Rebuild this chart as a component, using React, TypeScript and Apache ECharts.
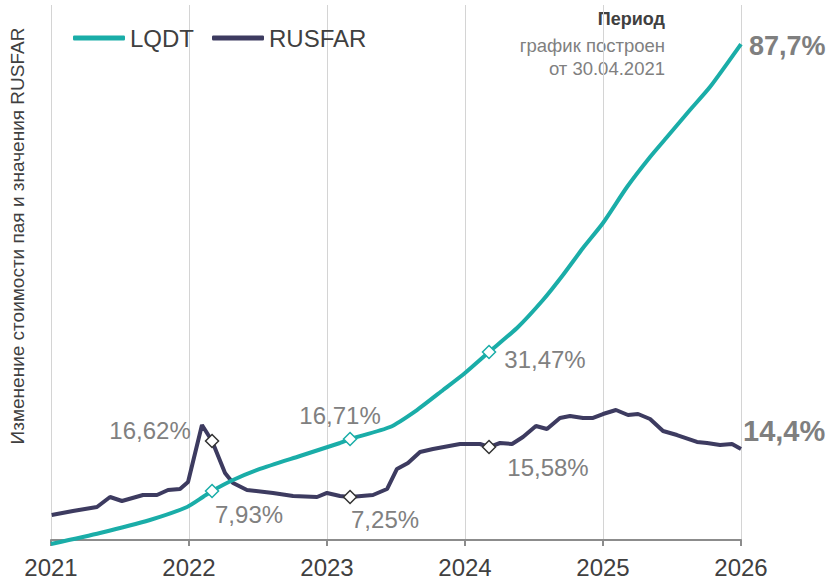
import React, { useEffect, useRef } from "react";
import * as echarts from "echarts";

// Years (decimal) and cumulative change of LQDT, %
const lqdtDates = [2021.0, 2021.355, 2021.717, 2021.986, 2022.101, 2022.167, 2022.319, 2022.514, 2022.804, 2023.094, 2023.167, 2023.457, 2023.652, 2023.841, 2024.0, 2024.174, 2024.377, 2024.565, 2024.71, 2024.855, 2025.0, 2025.174, 2025.341, 2025.464, 2025.63, 2025.775, 2026.0];
const lqdtValues = [0, 1.93, 4.21, 6.49, 8.24, 9.3, 11.23, 13.16, 15.44, 17.72, 18.42, 20.52, 23.5, 27.01, 30.0, 33.68, 37.89, 42.8, 47.19, 51.92, 56.31, 62.62, 67.88, 71.39, 76.13, 80.16, 87.7];

// RUSFAR rate, %
const rusfarDates = [2021.005, 2021.159, 2021.333, 2021.428, 2021.514, 2021.667, 2021.768, 2021.848, 2021.935, 2021.993, 2022.094, 2022.167, 2022.261, 2022.319, 2022.42, 2022.609, 2022.754, 2022.928, 2023.0, 2023.094, 2023.167, 2023.333, 2023.435, 2023.507, 2023.587, 2023.674, 2023.768, 2023.964, 2024.109, 2024.174, 2024.254, 2024.341, 2024.42, 2024.514, 2024.594, 2024.688, 2024.761, 2024.855, 2024.928, 2025.0, 2025.094, 2025.181, 2025.254, 2025.341, 2025.435, 2025.536, 2025.681, 2025.754, 2025.848, 2025.935, 2026.0];
const rusfarValues = [4.0, 4.67, 5.33, 7.0, 6.33, 7.33, 7.33, 8.17, 8.33, 9.5, 19.0, 16.33, 11.0, 9.33, 8.17, 7.67, 7.17, 7.0, 7.67, 7.17, 7.0, 7.33, 8.33, 11.67, 12.67, 14.5, 15.0, 15.83, 15.83, 15.33, 16.0, 15.83, 17.0, 18.83, 18.33, 20.17, 20.5, 20.17, 20.17, 20.83, 21.5, 20.67, 20.83, 20.0, 18.0, 17.33, 16.17, 16.0, 15.67, 15.83, 15.0];

// Annotated points
const lqdtMarkDates = [2022.167, 2023.167, 2024.174];
const lqdtMarkLabels = ["7,93%", "16,71%", "31,47%"];
const rusfarMarkDates = [2022.167, 2023.167, 2024.174];
const rusfarMarkLabels = ["16,62%", "7,25%", "15,58%"];
const lqdtEndLabel = "87,7%";
const rusfarEndLabel = "14,4%";

const tickYears = [2021, 2022, 2023, 2024, 2025, 2026];
const tickLabels = ["2021", "2022", "2023", "2024", "2025", "2026"];

const TEAL = "#1aada8";
const DARK = "#3d3b60";
const FONT = "'Liberation Sans', Arial, sans-serif";

export default function App() {
  const ref = useRef<HTMLDivElement>(null);

  useEffect(() => {
    if (!ref.current) return;
    const chart = echarts.init(ref.current, null, { renderer: "svg" });

    const lqdtMarkOffsets = [[37, 24], [-10, -23], [56, 8]];
    const rusfarMarkOffsets = [[-62, -11], [35, 23], [59, 20]];

    const lqdtMarks = lqdtMarkDates.map((d, i) => {
      const idx = lqdtDates.indexOf(d);
      return {
        coord: [d, lqdtValues[idx]],
        label: { offset: lqdtMarkOffsets[i], formatter: lqdtMarkLabels[i] },
      };
    });
    const rusfarMarks = rusfarMarkDates.map((d, i) => {
      const idx = rusfarDates.indexOf(d);
      return {
        coord: [d, rusfarValues[idx]],
        label: { offset: rusfarMarkOffsets[i], formatter: rusfarMarkLabels[i] },
      };
    });

    const markLabel = {
      show: true,
      position: "inside",
      fontSize: 24,
      color: "#808080",
      fontFamily: FONT,
    };

    chart.setOption({
      animation: false,
      textStyle: { fontFamily: FONT },
      grid: { left: 51, right: 85, top: 5, bottom: 43, containLabel: false },
      legend: {
        data: ["LQDT", "RUSFAR"],
        left: 68,
        top: 21,
        icon: "roundRect",
        itemWidth: 52,
        itemHeight: 5,
        itemGap: 18,
        textStyle: { fontSize: 24, color: "#404040", fontFamily: FONT },
      },
      xAxis: {
        type: "value",
        min: 2021,
        max: 2026,
        interval: 1,
        axisLine: { onZero: false, lineStyle: { color: "#8c8c8c", width: 2 } },
        axisTick: { show: true, length: 6, lineStyle: { color: "#8c8c8c", width: 2 } },
        splitLine: { show: true, lineStyle: { color: "#d4d4d4", width: 1 } },
        axisLabel: {
          fontSize: 24,
          color: "#404040",
          margin: 15,
          fontFamily: FONT,
          formatter: (v: number) => tickLabels[tickYears.indexOf(Math.round(v))] ?? "",
        },
      },
      yAxis: [
        { type: "value", min: 0.7, max: 94.55, show: false },
        { type: "value", min: -0.167, max: 89.0, show: false },
      ],
      graphic: [
        {
          type: "text",
          x: 665,
          y: 19,
          style: { text: "Период", fontSize: 18, fontWeight: "bold", fill: "#404040", textAlign: "right", textVerticalAlign: "middle", fontFamily: FONT },
        },
        {
          type: "text",
          x: 665,
          y: 45,
          style: { text: "график построен", fontSize: 18.5, fill: "#808080", textAlign: "right", textVerticalAlign: "middle", fontFamily: FONT },
        },
        {
          type: "text",
          x: 665,
          y: 68,
          style: { text: "от 30.04.2021", fontSize: 18.5, fill: "#808080", textAlign: "right", textVerticalAlign: "middle", fontFamily: FONT },
        },
        {
          type: "text",
          x: 17,
          y: 236,
          rotation: Math.PI / 2,
          style: { text: "Изменение стоимости пая и значения RUSFAR", fontSize: 19, fill: "#404040", textAlign: "center", textVerticalAlign: "middle", fontFamily: FONT },
        },
      ],
      series: [
        {
          name: "LQDT",
          type: "line",
          yAxisIndex: 0,
          clip: false,
          showSymbol: false,
          smooth: 0.2,
          color: TEAL,
          lineStyle: { color: TEAL, width: 4 },
          data: lqdtDates.map((d, i) => [d, lqdtValues[i]]),
          endLabel: {
            show: true,
            formatter: lqdtEndLabel,
            fontSize: 27,
            fontWeight: "bold",
            color: "#7f7f7f",
            distance: 8,
            offset: [0, 2],
            fontFamily: FONT,
          },
          markPoint: {
            symbol: "diamond",
            symbolSize: 13,
            itemStyle: { color: "#ffffff", borderColor: TEAL, borderWidth: 1.5 },
            label: markLabel,
            data: lqdtMarks,
          },
          z: 3,
        },
        {
          name: "RUSFAR",
          type: "line",
          yAxisIndex: 1,
          showSymbol: false,
          color: DARK,
          lineStyle: { color: DARK, width: 4 },
          data: rusfarDates.map((d, i) => [d, rusfarValues[i]]),
          endLabel: {
            show: true,
            formatter: rusfarEndLabel,
            fontSize: 29,
            fontWeight: "bold",
            color: "#7f7f7f",
            distance: 2,
            offset: [0, -18],
            fontFamily: FONT,
          },
          markPoint: {
            symbol: "diamond",
            symbolSize: 13,
            itemStyle: { color: "#ffffff", borderColor: "#333333", borderWidth: 1.5 },
            label: markLabel,
            data: rusfarMarks,
          },
          z: 2,
        },
      ],
    });

    return () => chart.dispose();
  }, []);

  return (
    <div
      ref={ref}
      style={{ position: "fixed", left: 0, top: 0, width: 826, height: 583, background: "#ffffff" }}
    />
  );
}
